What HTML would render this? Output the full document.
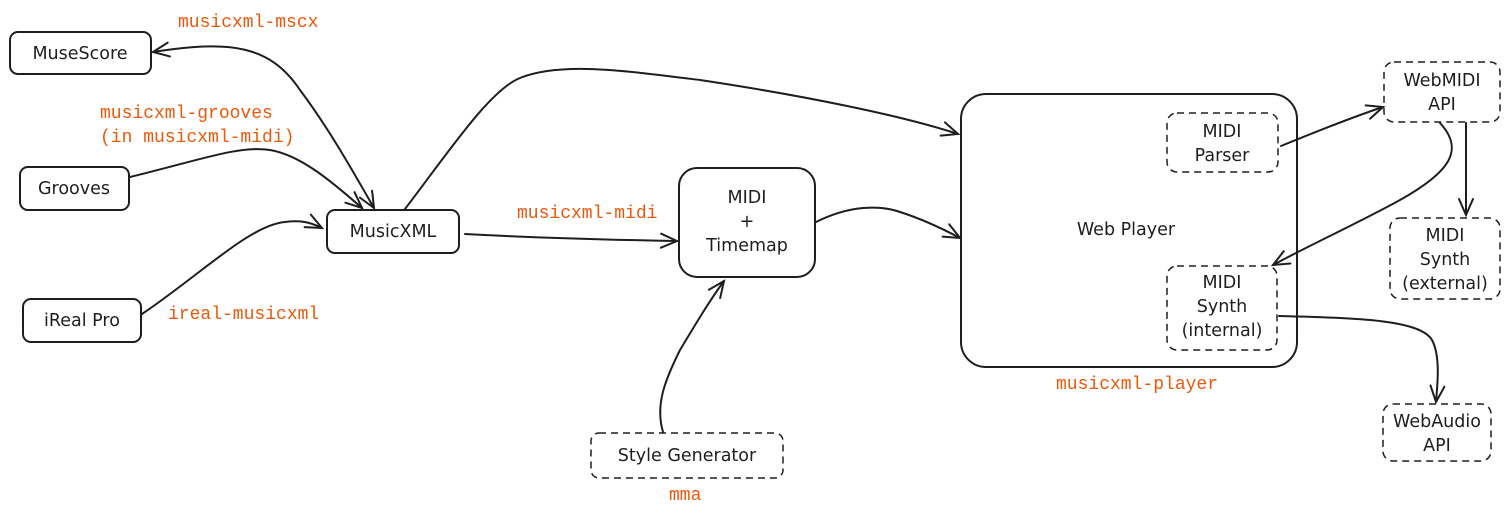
<!DOCTYPE html>
<html><head><meta charset="utf-8"><style>
html,body{margin:0;padding:0;background:#fff;}
svg{display:block;}
.t{font-family:"DejaVu Sans","Liberation Sans",sans-serif;font-size:17.5px;fill:#1e1e1e;text-anchor:middle;}
.o{font-family:"Liberation Mono",monospace;font-size:18px;fill:#e8590c;}
.b{fill:none;stroke:#1e1e1e;stroke-width:2;}
.d{fill:none;stroke:#1e1e1e;stroke-width:1.5;stroke-dasharray:7 5;}
.a{fill:none;stroke:#1e1e1e;stroke-width:2;stroke-linecap:round;}
</style></head><body>
<svg width="1510" height="516" viewBox="0 0 1510 516" xmlns="http://www.w3.org/2000/svg">
<defs>
<marker id="m" viewBox="0 0 20 20" refX="18" refY="10" markerWidth="20" markerHeight="20" markerUnits="userSpaceOnUse" orient="auto-start-reverse">
<path d="M2,3 L18,10 L2,17" fill="none" stroke="#1e1e1e" stroke-width="2" stroke-linecap="round"/>
</marker>
</defs>
<rect class="b" x="10" y="32" width="141" height="42" rx="8"/>
<text class="t" x="80" y="59">MuseScore</text>
<rect class="b" x="20" y="167" width="109" height="43" rx="8"/>
<text class="t" x="74" y="194">Grooves</text>
<rect class="b" x="327" y="210" width="132" height="43" rx="8"/>
<text class="t" x="393" y="237">MusicXML</text>
<rect class="b" x="23" y="299" width="118" height="43" rx="8"/>
<text class="t" x="82" y="326">iReal Pro</text>
<rect class="b" x="679" y="168" width="136" height="109" rx="18"/>
<text class="t" x="747" y="203">MIDI</text>
<text class="t" x="747" y="227">+</text>
<text class="t" x="747" y="251">Timemap</text>
<rect class="d" x="591" y="433" width="192" height="45" rx="8"/>
<text class="t" x="687" y="461">Style Generator</text>
<rect class="b" x="961" y="94" width="336" height="273" rx="25"/>
<text class="t" x="1126" y="235">Web Player</text>
<rect class="d" x="1167" y="113" width="111" height="59" rx="10"/>
<text class="t" x="1222" y="137">MIDI</text>
<text class="t" x="1222" y="161">Parser</text>
<rect class="d" x="1167" y="266" width="110" height="84" rx="10"/>
<text class="t" x="1222" y="288">MIDI</text>
<text class="t" x="1222" y="312">Synth</text>
<text class="t" x="1222" y="336">(internal)</text>
<rect class="d" x="1384" y="62" width="116" height="60" rx="10"/>
<text class="t" x="1442" y="86">WebMIDI</text>
<text class="t" x="1442" y="110">API</text>
<rect class="d" x="1390" y="218" width="110" height="81" rx="10"/>
<text class="t" x="1445" y="241">MIDI</text>
<text class="t" x="1445" y="265">Synth</text>
<text class="t" x="1445" y="289">(external)</text>
<rect class="d" x="1383" y="404" width="108" height="57" rx="10"/>
<text class="t" x="1437" y="427">WebAudio</text>
<text class="t" x="1437" y="451">API</text>
<text class="o" x="178" y="27">musicxml-mscx</text>
<text class="o" x="100" y="118">musicxml-grooves</text>
<text class="o" x="100" y="142">(in musicxml-midi)</text>
<text class="o" x="517" y="218">musicxml-midi</text>
<text class="o" x="168" y="319">ireal-musicxml</text>
<text class="o" x="1056" y="389">musicxml-player</text>
<text class="o" x="669" y="500">mma</text>
<path class="a" marker-start="url(#m)" marker-end="url(#m)" d="M153,52 C230,40 270,45 300,90 C330,130 355,175 374,208"/>
<path class="a" marker-end="url(#m)" d="M130,177 C200,160 240,145 270,150 C300,155 330,180 362,208"/>
<path class="a" marker-end="url(#m)" d="M142,314 C200,275 250,225 285,222 C300,220 310,222 322,228"/>
<path class="a" marker-end="url(#m)" d="M405,209 C450,150 490,90 520,78 C560,62 620,70 700,80 C800,95 900,115 958,134"/>
<path class="a" marker-end="url(#m)" d="M465,234 C540,238 620,240 677,241"/>
<path class="a" marker-end="url(#m)" d="M816,222 C850,205 880,205 900,212 C925,220 945,230 960,238"/>
<path class="a" marker-end="url(#m)" d="M663,432 C655,405 665,380 680,350 C695,325 710,300 724,281"/>
<path class="a" marker-end="url(#m)" d="M1281,146 C1320,130 1350,118 1383,107"/>
<path class="a" marker-end="url(#m)" d="M1440,123 C1465,150 1450,172 1400,200 C1360,222 1310,245 1273,265"/>
<path class="a" marker-end="url(#m)" d="M1466,123 C1466,150 1466,185 1466,215"/>
<path class="a" marker-end="url(#m)" d="M1279,316 C1360,318 1420,320 1432,340 C1440,355 1438,380 1436,402"/>
</svg>
</body></html>
